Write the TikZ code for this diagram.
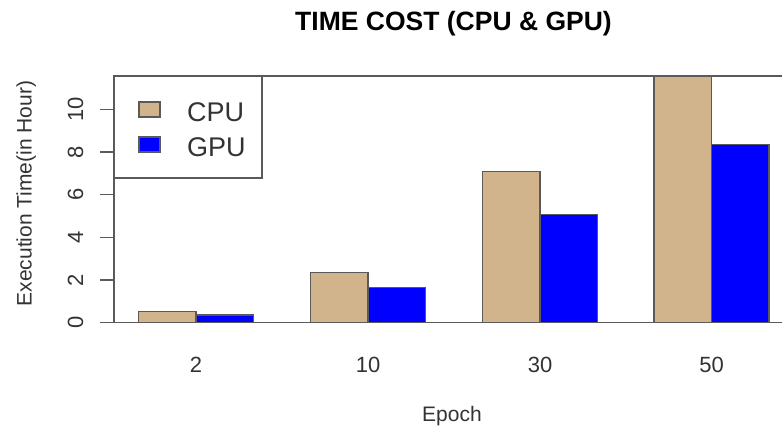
\documentclass[tikz,border=0pt]{standalone}
\usepackage{fontspec}
\setmainfont{Liberation Sans}
\definecolor{cputan}{HTML}{D2B48C}
\definecolor{gpublue}{HTML}{0000FF}
\definecolor{axisgray}{HTML}{5A5A5A}
\definecolor{txtgray}{HTML}{333333}
\begin{document}
\begin{tikzpicture}[x=1pt,y=-1pt,
  cpubar/.style={fill=cputan, draw=axisgray, line width=1.2pt},
  gpubar/.style={fill=gpublue, draw=axisgray, line width=1.2pt},
  framel/.style={draw=axisgray, line width=1.4pt},
  tickl/.style={draw=axisgray, line width=1.4pt},
  ticklab/.style={text=txtgray, font=\fontsize{22}{24}\selectfont, inner sep=0pt},
  axlab/.style={text=txtgray, font=\fontsize{21}{24}\selectfont, inner sep=0pt},
  leglab/.style={text=txtgray, font=\fontsize{27}{30}\selectfont, inner sep=0pt},
  titlelab/.style={text=black, font=\fontsize{26.5}{30}\selectfont\bfseries, inner sep=0pt}]
\useasboundingbox (0,0) rectangle (782,431);
\fill[white] (0,0) rectangle (782,431);
\def\yb{322.5}
\def\ys{21.3}
% bars
\foreach \L/\c/\g in {138.5/0.5/0.35, 310.5/2.35/1.65, 482.5/7.1/5.07}{
  \draw[cpubar] (\L,\yb) rectangle ({\L+57.5},{\yb-\ys*\c});
  \draw[gpubar] ({\L+57.5},\yb) rectangle ({\L+115},{\yb-\ys*\g});
}
\draw[cpubar] (654,\yb) rectangle (711.5,76);
\draw[gpubar] (711.5,\yb) rectangle (769,{\yb-\ys*8.36});
% frame
\draw[framel] (782,76) -- (114,76) -- (114,\yb) -- (782,\yb);
% ticks and labels
\foreach \v in {0,2,4,6,8,10}{
  \draw[tickl] (100,{\yb-\ys*\v}) -- (114,{\yb-\ys*\v});
  \node[ticklab, rotate=90, anchor=base] (yt\v) at (83,{\yb-\ys*\v}) {\v};
}
% legend
\draw[framel, fill=white] (114,76) rectangle (262,178);
\draw[cpubar] (139,102) rectangle (160,117);
\draw[gpubar] (139,137) rectangle (160,152);
\node[leglab, anchor=base west] (lcpu) at (187,121.7) {CPU};
\node[leglab, anchor=base west] (lgpu) at (187,156.7) {GPU};
% x labels
\node[ticklab, anchor=base] (x2) at (196,372.3) {2};
\node[ticklab, anchor=base] (x10) at (368,372.3) {10};
\node[ticklab, anchor=base] (x30) at (540,372.3) {30};
\node[ticklab, anchor=base] (x50) at (711.5,372.3) {50};
\node[axlab, anchor=base] (xlab) at (452,421.7) {Epoch};
\node[axlab, rotate=90, anchor=base] (ylab) at (31.5,193.5) {Execution Time(in Hour)};
\node[titlelab, anchor=base] (title) at (453.5,30.7) {TIME COST (CPU \& GPU)};
\end{tikzpicture}
\end{document}
